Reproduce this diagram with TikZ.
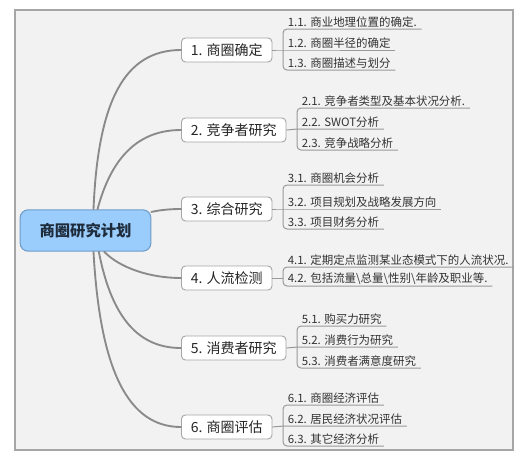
\documentclass[tikz,border=0pt]{standalone}
\usepackage{fontspec}
\setmainfont{Noto Sans CJK SC}
\usepackage{tikz}
\usetikzlibrary{calc}
\definecolor{frameline}{HTML}{A6A6A6}
\definecolor{framefill}{HTML}{F2F2F2}
\definecolor{rootfill}{HTML}{9ACCFC}
\definecolor{rootline}{HTML}{6F9CC9}
\definecolor{rootText}{HTML}{1E2C3C}
\definecolor{branch}{HTML}{8A8A8A}
\definecolor{twigline}{HTML}{999999}
\tikzset{
  rootbox/.style={draw=rootline,fill=rootfill,rounded corners=6pt,line width=0.8pt,
    minimum width=98pt,minimum height=31pt,text=rootText,font=\fontsize{11.5}{13}\selectfont\bfseries},
  topic/.style={draw=frameline,fill=white,rounded corners=3pt,line width=0.7pt,anchor=west,
    minimum height=18pt,inner xsep=7pt,text=black!85,font=\fontsize{10.5}{12}\selectfont},
  leaf/.style={anchor=south west,inner xsep=3.4pt,inner ysep=1.2pt,text=black!80,
    font=\fontsize{8.6}{10}\selectfont},
  branchline/.style={draw=branch,line width=1.4pt,line cap=round},
  twig/.style={draw=twigline,line width=0.75pt,rounded corners=3pt}
}
\begin{document}
\begin{tikzpicture}[x=0.75pt,y=-0.75pt]
  \useasboundingbox (0,0) rectangle (525,465);
  \draw[draw=frameline,fill=framefill,line width=1.1pt] (15,10) rectangle (513,450);

  \node[rootbox] (root) at (85.5,230.5) {商圈研究计划};

  \node[topic] (t1) at (181,50) {1. 商圈确定};
  \node[topic] (t2) at (181,130) {2. 竞争者研究};
  \node[topic] (t3) at (181,209) {3. 综合研究};
  \node[topic] (t4) at (181,278) {4. 人流检测};
  \node[topic] (t5) at (181,348) {5. 消费者研究};
  \node[topic] (t6) at (181,427) {6. 商圈评估};

  % branches from the centre
  \draw[branchline] ([xshift=6]root.north) .. controls (98,100) and (125,50) .. (t1.west);
  \draw[branchline] ([xshift=9]root.north) .. controls (112,155) and (140,130) .. (t2.west);
  \draw[branchline] ([yshift=-2]root.north east) .. controls (160,210) and (170,209) .. (t3.west);
  \draw[branchline] ([xshift=14]root.south) .. controls (120,268) and (150,278) .. (t4.west);
  \draw[branchline] ([xshift=10]root.south) .. controls (112,320) and (140,348) .. (t5.west);
  \draw[branchline] ([xshift=6]root.south) .. controls (100,370) and (128,427) .. (t6.west);

  % leaves
  \node[leaf] (a1) at (283,29) {1.1. 商业地理位置的确定.};
  \node[leaf] (a2) at (283,50) {1.2. 商圈半径的确定};
  \node[leaf] (a3) at (283,70) {1.3. 商圈描述与划分};

  \node[leaf] (b1) at (297,108) {2.1. 竞争者类型及基本状况分析.};
  \node[leaf] (b2) at (297,129) {2.2. SWOT分析};
  \node[leaf] (b3) at (297,150) {2.3. 竞争战略分析};

  \node[leaf] (c1) at (283,185) {3.1. 商圈机会分析};
  \node[leaf] (c2) at (283,209) {3.2. 项目规划及战略发展方向};
  \node[leaf] (c3) at (283,229) {3.3. 项目财务分析};

  \node[leaf] (d1) at (283,267) {4.1. 定期定点监测某业态模式下的人流状况.};
  \node[leaf] (d2) at (283,286) {4.2. 包括流量\textbackslash 总量\textbackslash 性别\textbackslash 年龄及职业等.};

  \node[leaf] (e1) at (297,326) {5.1. 购买力研究};
  \node[leaf] (e2) at (297,347) {5.2. 消费行为研究};
  \node[leaf] (e3) at (297,368) {5.3. 消费者满意度研究};

  \node[leaf] (f1) at (283,405) {6.1. 商圈经济评估};
  \node[leaf] (f2) at (283,426) {6.2. 居民经济状况评估};
  \node[leaf] (f3) at (283,446) {6.3. 其它经济分析};

  % brackets and underlines
  \draw[twig] (a1.south east) -- (a1.south west) -- (a3.south west) -- (a3.south east);
  \draw[twig] (t1.east) -- (a2.south west) -- (a2.south east);
  \draw[twig] (b1.south east) -- (b1.south west) -- (b3.south west) -- (b3.south east);
  \draw[twig] (t2.east) -- (b2.south west) -- (b2.south east);
  \draw[twig] (c1.south east) -- (c1.south west) -- (c3.south west) -- (c3.south east);
  \draw[twig] (t3.east) -- (c2.south west) -- (c2.south east);
  \draw[twig] (d1.south east) -- (d1.south west) -- (d2.south west) -- (d2.south east);
  \draw[twig] (t4.east) -- (t4.east -| d1.south west);
  \draw[twig] (e1.south east) -- (e1.south west) -- (e3.south west) -- (e3.south east);
  \draw[twig] (t5.east) -- (e2.south west) -- (e2.south east);
  \draw[twig] (f1.south east) -- (f1.south west) -- (f3.south west) -- (f3.south east);
  \draw[twig] (t6.east) -- (f2.south west) -- (f2.south east);
\end{tikzpicture}
\end{document}
